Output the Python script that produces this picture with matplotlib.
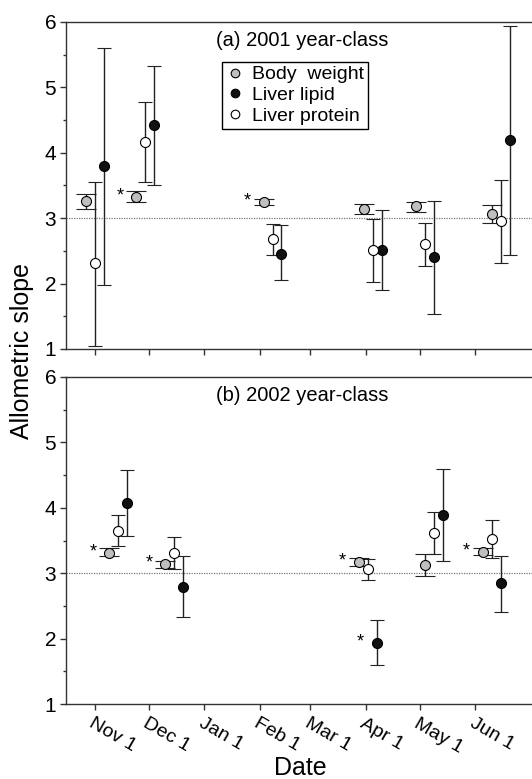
import datetime as dt
import matplotlib
matplotlib.use("Agg")
import matplotlib.pyplot as plt
from matplotlib.lines import Line2D
from matplotlib.ticker import MultipleLocator

plt.rcParams["font.family"] = ["Liberation Sans", "DejaVu Sans"]

# ── data: allometric slopes with 95% CI ───────────────────────────────────────
TOP_DATES = ["2001-11-01", "2001-11-29", "2002-02-08", "2002-04-05", "2002-05-04", "2002-06-15"]
top_body = [3.26, 3.33, 3.25, 3.14, 3.18, 3.06]
top_body_lo = [3.14, 3.25, 3.20, 3.06, 3.09, 2.92]
top_body_hi = [3.37, 3.41, 3.30, 3.22, 3.25, 3.20]
top_lipid = [3.80, 4.42, 2.46, 2.52, 2.40, 4.19]
top_lipid_lo = [1.98, 3.51, 2.05, 1.90, 1.54, 2.44]
top_lipid_hi = [5.61, 5.33, 2.89, 3.13, 3.26, 5.94]
top_protein = [2.31, 4.17, 2.68, 2.51, 2.61, 2.96]
top_protein_lo = [1.04, 3.55, 2.43, 2.02, 2.27, 2.31]
top_protein_hi = [3.55, 4.77, 2.91, 2.99, 2.92, 3.59]
top_body_star = [False, True, True, False, False, False]
top_lipid_star = [False] * 6

BOT_DATES = ["2002-11-14", "2002-12-15", "2003-04-02", "2003-05-09", "2003-06-10"]
bot_body = [3.31, 3.14, 3.17, 3.12, 3.33]
bot_body_lo = [3.27, 3.08, 3.11, 2.95, 3.28]
bot_body_hi = [3.38, 3.19, 3.23, 3.29, 3.38]
bot_lipid = [4.07, 2.79, 1.94, 3.89, 2.85]
bot_lipid_lo = [3.57, 2.33, 1.60, 3.18, 2.41]
bot_lipid_hi = [4.58, 3.27, 2.28, 4.60, 3.27]
bot_protein = [3.65, 3.31, 3.06, 3.61, 3.52]
bot_protein_lo = [3.41, 3.06, 2.89, 3.29, 3.23]
bot_protein_hi = [3.89, 3.55, 3.22, 3.93, 3.81]
bot_body_star = [True, True, True, False, True]
bot_lipid_star = [False, False, True, False, False]

MONTHS = ["Nov", "Dec", "Jan", "Feb", "Mar", "Apr", "May", "Jun"]
SERIES = [("Body  weight", "#bfbfbf"), ("Liver lipid", "#111111"), ("Liver protein", "white")]


def to_dates(strings, shift):
    return [dt.datetime.strptime(s, "%Y-%m-%d") + dt.timedelta(days=shift) for s in strings]


def draw_series(ax, x, y, lo, hi, face, capsize, stars=None):
    yerr = [[v - l for v, l in zip(y, lo)], [h - v for v, h in zip(y, hi)]]
    ax.errorbar(x, y, yerr=yerr, fmt="o", ms=7.2, mfc=face, mec="black", mew=0.8,
                ecolor="#222222", elinewidth=1.0, capsize=capsize, capthick=1.0,
                zorder=3)
    if stars:
        for xi, yi, s in zip(x, y, stars):
            if s:
                ax.annotate("*", (xi, yi), xytext=(-11.5, 0.5), textcoords="offset points",
                            ha="center", va="center", fontsize=13)


def style_axis(ax, start_year, title, show_labels):
    ax.set_ylim(1, 6)
    ax.set_xlim(dt.datetime(start_year, 10, 16), dt.datetime(start_year + 1, 7, 2, 12))
    ax.yaxis.set_major_locator(MultipleLocator(1))
    ax.yaxis.set_minor_locator(MultipleLocator(0.5))
    ticks = [dt.datetime(start_year, 11, 1), dt.datetime(start_year, 12, 1)] + \
            [dt.datetime(start_year + 1, m, 1) for m in range(1, 7)]
    ax.set_xticks(ticks)
    if show_labels:
        ax.set_xticklabels([f"{m} 1" for m in MONTHS], rotation=-30, ha="left", va="top",
                           rotation_mode="anchor", fontsize=14)
    else:
        ax.set_xticklabels([])
    ax.tick_params(axis="both", which="major", direction="out", length=4, width=1.0,
                   color="#333333", pad=3)
    ax.tick_params(axis="y", labelsize=15)
    ax.tick_params(axis="y", which="minor", direction="out", length=2.5, width=1.0,
                   color="#333333")
    ax.tick_params(axis="x", pad=4)
    for side in ["left", "bottom", "top"]:
        ax.spines[side].set_color("#333333")
        ax.spines[side].set_linewidth(1.0)
    ax.spines["right"].set_visible(False)
    ax.axhline(3, color="#777777", lw=0.9, ls=(0, (1, 1)), zorder=1)
    ax.text(0.322, 0.942, title, transform=ax.transAxes, fontsize=14.5,
            ha="left", va="center")


fig = plt.figure(figsize=(5.32, 7.79), dpi=100)
ax_a = fig.add_axes([66 / 532, 1 - 349 / 779, 466 / 532, 327 / 779])
ax_b = fig.add_axes([66 / 532, 1 - 704 / 779, 466 / 532, 327 / 779])

# (a) 2001 year-class
draw_series(ax_a, to_dates(TOP_DATES, -5), top_body, top_body_lo, top_body_hi,
            "#bfbfbf", 7, top_body_star)
draw_series(ax_a, to_dates(TOP_DATES, 5), top_lipid, top_lipid_lo, top_lipid_hi,
            "#111111", 5, top_lipid_star)
draw_series(ax_a, to_dates(TOP_DATES, 0), top_protein, top_protein_lo, top_protein_hi,
            "white", 5)
style_axis(ax_a, 2001, "(a) 2001 year-class", False)

handles = [Line2D([], [], ls="none", marker="o", ms=6.2, mfc=c, mec="black", mew=0.8)
           for _, c in SERIES]
leg = ax_a.legend(handles, [n for n, _ in SERIES], loc="upper left",
                  bbox_to_anchor=(0.334, 0.879), borderaxespad=0,
                  fontsize=14, frameon=True, fancybox=False, framealpha=1,
                  edgecolor="black", handlelength=0.9, handletextpad=0.45,
                  borderpad=0.22, labelspacing=0.15)
leg.get_frame().set_linewidth(1.0)

# (b) 2002 year-class
draw_series(ax_b, to_dates(BOT_DATES, -5), bot_body, bot_body_lo, bot_body_hi,
            "#bfbfbf", 7, bot_body_star)
draw_series(ax_b, to_dates(BOT_DATES, 5), bot_lipid, bot_lipid_lo, bot_lipid_hi,
            "#111111", 5, bot_lipid_star)
draw_series(ax_b, to_dates(BOT_DATES, 0), bot_protein, bot_protein_lo, bot_protein_hi,
            "white", 5)
style_axis(ax_b, 2002, "(b) 2002 year-class", True)

fig.text(22 / 532, 1 - 351 / 779, "Allometric slope", rotation=90, ha="center",
         va="center", fontsize=18)
fig.text(300 / 532, 1 - 768 / 779, "Date", ha="center", va="center", fontsize=18)

fig.savefig("out.png", dpi=100)
